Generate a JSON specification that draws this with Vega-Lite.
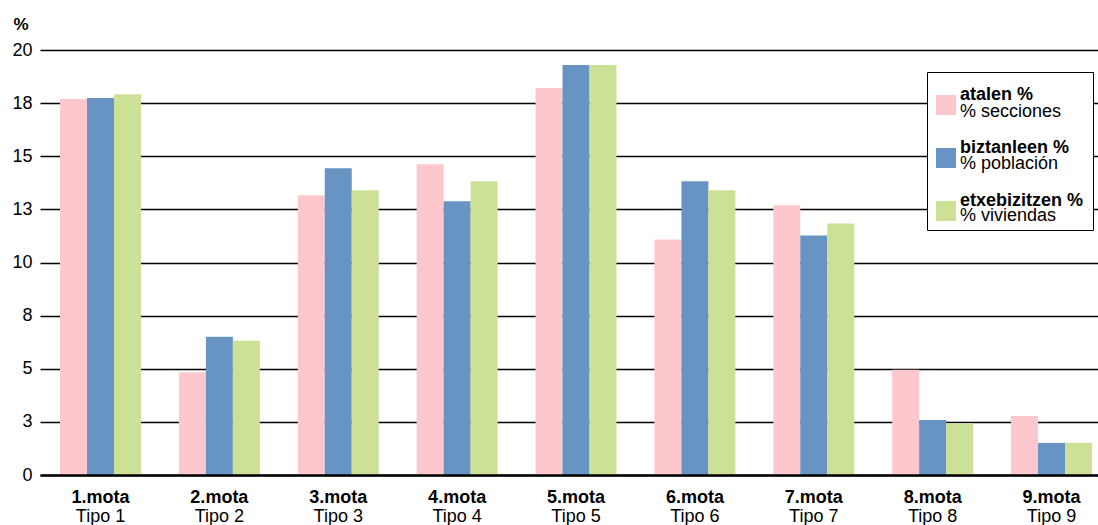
{
  "$schema": "https://vega.github.io/schema/vega-lite/v6.json",
  "width": 1058,
  "height": 425,
  "autosize": {"type": "none"},
  "padding": {"left": 40, "top": 50, "right": 0, "bottom": 50},
  "background": "white",
  "config": {
    "view": {"stroke": null},
    "font": "Liberation Sans",
    "axis": {"labelFont": "Liberation Sans", "titleFont": "Liberation Sans"},
    "legend": {"labelFont": "Liberation Sans", "titleFont": "Liberation Sans"}
  },
  "datasets": {
    "bars": [
      {"mota": "1.mota", "eu": "atalen %", "es": "% secciones", "value": 17.69},
      {"mota": "1.mota", "eu": "biztanleen %", "es": "% población", "value": 17.74},
      {"mota": "1.mota", "eu": "etxebizitzen %", "es": "% viviendas", "value": 17.92},
      {"mota": "2.mota", "eu": "atalen %", "es": "% secciones", "value": 4.83},
      {"mota": "2.mota", "eu": "biztanleen %", "es": "% población", "value": 6.51},
      {"mota": "2.mota", "eu": "etxebizitzen %", "es": "% viviendas", "value": 6.32},
      {"mota": "3.mota", "eu": "atalen %", "es": "% secciones", "value": 13.16},
      {"mota": "3.mota", "eu": "biztanleen %", "es": "% población", "value": 14.43},
      {"mota": "3.mota", "eu": "etxebizitzen %", "es": "% viviendas", "value": 13.40},
      {"mota": "4.mota", "eu": "atalen %", "es": "% secciones", "value": 14.62},
      {"mota": "4.mota", "eu": "biztanleen %", "es": "% población", "value": 12.88},
      {"mota": "4.mota", "eu": "etxebizitzen %", "es": "% viviendas", "value": 13.82},
      {"mota": "5.mota", "eu": "atalen %", "es": "% secciones", "value": 18.21},
      {"mota": "5.mota", "eu": "biztanleen %", "es": "% población", "value": 19.29},
      {"mota": "5.mota", "eu": "etxebizitzen %", "es": "% viviendas", "value": 19.29},
      {"mota": "6.mota", "eu": "atalen %", "es": "% secciones", "value": 11.08},
      {"mota": "6.mota", "eu": "biztanleen %", "es": "% población", "value": 13.82},
      {"mota": "6.mota", "eu": "etxebizitzen %", "es": "% viviendas", "value": 13.40},
      {"mota": "7.mota", "eu": "atalen %", "es": "% secciones", "value": 12.69},
      {"mota": "7.mota", "eu": "biztanleen %", "es": "% población", "value": 11.27},
      {"mota": "7.mota", "eu": "etxebizitzen %", "es": "% viviendas", "value": 11.84},
      {"mota": "8.mota", "eu": "atalen %", "es": "% secciones", "value": 4.95},
      {"mota": "8.mota", "eu": "biztanleen %", "es": "% población", "value": 2.59},
      {"mota": "8.mota", "eu": "etxebizitzen %", "es": "% viviendas", "value": 2.44},
      {"mota": "9.mota", "eu": "atalen %", "es": "% secciones", "value": 2.78},
      {"mota": "9.mota", "eu": "biztanleen %", "es": "% población", "value": 1.51},
      {"mota": "9.mota", "eu": "etxebizitzen %", "es": "% viviendas", "value": 1.51}
    ],
    "labels": [
      {"mota": "1.mota", "tipo": "Tipo 1"},
      {"mota": "2.mota", "tipo": "Tipo 2"},
      {"mota": "3.mota", "tipo": "Tipo 3"},
      {"mota": "4.mota", "tipo": "Tipo 4"},
      {"mota": "5.mota", "tipo": "Tipo 5"},
      {"mota": "6.mota", "tipo": "Tipo 6"},
      {"mota": "7.mota", "tipo": "Tipo 7"},
      {"mota": "8.mota", "tipo": "Tipo 8"},
      {"mota": "9.mota", "tipo": "Tipo 9"}
    ]
  },
  "layer": [
    {
      "data": {"name": "bars"},
      "mark": {"type": "bar"},
      "encoding": {
        "x": {
          "field": "mota", "type": "nominal", "sort": null,
          "scale": {"paddingInner": 0.3188, "paddingOuter": 0.1093, "align": 0.77},
          "axis": {
            "title": null, "labelAngle": 0, "ticks": false,
            "domainColor": "black", "domainWidth": 2.5, "zindex": 1,
            "labelFontSize": 18, "labelFontWeight": "bold", "labelColor": "black",
            "labelPadding": 13
          }
        },
        "xOffset": {
          "field": "eu", "type": "nominal", "sort": null,
          "scale": {"paddingInner": 0, "paddingOuter": 0}
        },
        "y": {
          "field": "value", "type": "quantitative",
          "scale": {"domain": [0, 20], "nice": false},
          "axis": {
            "values": [0, 2.5, 5, 7.5, 10, 12.5, 15, 17.5, 20],
            "format": ".0f",
            "domain": false, "ticks": false,
            "grid": true, "gridColor": "black", "gridWidth": 1.3, "zindex": 0,
            "labelFontSize": 18, "labelColor": "black", "labelPadding": 8,
            "title": "%", "titleAngle": 0, "titleAlign": "left", "titleBaseline": "alphabetic",
            "titleX": -27, "titleY": -21, "titleFontSize": 17, "titleFontWeight": "bold", "titleColor": "black"
          }
        },
        "color": {
          "field": "eu", "type": "nominal",
          "scale": {"domain": ["atalen %", "biztanleen %", "etxebizitzen %"], "range": ["#FCC8CE", "#6794C3", "#CDE196"]},
          "legend": {
            "title": " ", "titleFontSize": 8, "titlePadding": 6,
            "orient": "none", "legendX": 887, "legendY": 22,
            "symbolType": "square", "symbolSize": 400, "symbolStrokeWidth": 0,
            "labelFontSize": 18, "labelFontWeight": "bold", "labelColor": "black", "labelLimit": 400,
            "labelBaseline": "top",
            "labelOffset": 4, "rowPadding": 24, "padding": 9,
            "strokeColor": "black", "fillColor": "white", "zindex": 1,
            "encode": {"labels": {"update": {"dy": {"value": -19}}}}
          }
        },
        "strokeDash": {
          "field": "es", "type": "nominal",
          "scale": {"domain": ["% secciones", "% población", "% viviendas"], "range": [[1, 0], [1, 0], [1, 0]]},
          "legend": {
            "title": null, "orient": "none", "legendX": 902, "legendY": 53,
            "symbolType": "square", "symbolSize": 0, "symbolStrokeWidth": 0, "symbolStrokeColor": "transparent",
            "labelFontSize": 18, "labelFontWeight": "normal", "labelColor": "black", "labelLimit": 400,
            "labelOffset": 0, "rowPadding": 34, "padding": 0, "zindex": 2
          }
        }
      }
    },
    {
      "data": {"name": "labels"},
      "mark": {"type": "text", "baseline": "top", "dy": 33, "fontSize": 18, "font": "Liberation Sans", "color": "black"},
      "encoding": {
        "x": {"field": "mota", "type": "nominal", "sort": null},
        "y": {"datum": 0},
        "text": {"field": "tipo"}
      }
    }
  ]
}
